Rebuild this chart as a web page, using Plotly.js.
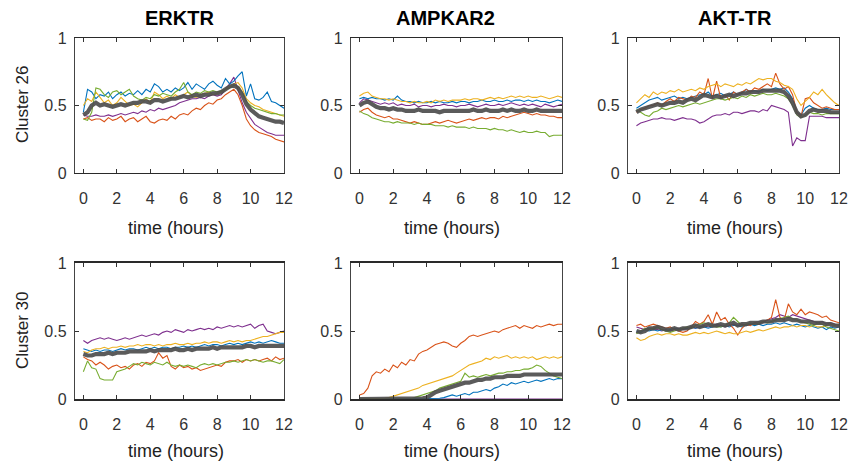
<!DOCTYPE html>
<html>
<head>
<meta charset="utf-8">
<script src="https://cdn.plot.ly/plotly-3.0.1.min.js"></script>
<style>html,body{margin:0;padding:0;background:#fff;}#chart{width:850px;height:465px;}</style>
</head>
<body>
<div id="chart"></div>
<script>
// ---------- DATA ----------
const hours = [0,0.25,0.5,0.75,1,1.25,1.5,1.75,2,2.25,2.5,2.75,3,3.25,3.5,3.75,4,4.25,4.5,4.75,5,5.25,5.5,5.75,6,6.25,6.5,6.75,7,7.25,7.5,7.75,8,8.25,8.5,8.75,9,9.25,9.5,9.75,10,10.25,10.5,10.75,11,11.25,11.5,11.75,12];
const xTicks = [0,2,4,6,8,10,12];
const yTicks = [0,0.5,1];
const yTickText = ["0","0.5","1"];
const reporters = ["ERKTR","AMPKAR2","AKT-TR"];
const clusters = ["Cluster 26","Cluster 30"];
const xLabel = "time (hours)";

// Cluster 26 - ERKTR
const erk26_blue   = [0.45,0.62,0.60,0.55,0.58,0.57,0.60,0.55,0.58,0.60,0.57,0.59,0.58,0.61,0.58,0.62,0.60,0.66,0.64,0.60,0.62,0.60,0.63,0.61,0.63,0.67,0.62,0.66,0.64,0.62,0.66,0.68,0.65,0.63,0.70,0.66,0.68,0.72,0.75,0.57,0.66,0.55,0.54,0.56,0.60,0.53,0.52,0.50,0.48];
const erk26_red    = [0.40,0.41,0.39,0.40,0.40,0.38,0.41,0.39,0.40,0.42,0.38,0.40,0.41,0.38,0.40,0.42,0.38,0.37,0.39,0.40,0.39,0.42,0.40,0.43,0.44,0.43,0.46,0.48,0.47,0.50,0.52,0.51,0.54,0.55,0.58,0.60,0.62,0.58,0.50,0.40,0.35,0.32,0.30,0.29,0.28,0.27,0.25,0.24,0.23];
const erk26_yellow = [0.50,0.55,0.53,0.60,0.56,0.52,0.54,0.50,0.52,0.56,0.53,0.50,0.51,0.49,0.52,0.55,0.52,0.60,0.58,0.55,0.57,0.55,0.58,0.56,0.58,0.60,0.57,0.56,0.58,0.59,0.60,0.58,0.59,0.60,0.62,0.64,0.66,0.67,0.63,0.55,0.52,0.50,0.49,0.47,0.46,0.45,0.44,0.43,0.42];
const erk26_purple = [0.43,0.42,0.42,0.43,0.42,0.42,0.43,0.42,0.43,0.44,0.43,0.44,0.45,0.44,0.46,0.45,0.47,0.46,0.48,0.47,0.48,0.49,0.50,0.52,0.53,0.54,0.55,0.55,0.56,0.55,0.57,0.58,0.57,0.58,0.62,0.66,0.71,0.62,0.52,0.45,0.40,0.36,0.34,0.32,0.30,0.29,0.28,0.28,0.28];
const erk26_green  = [0.40,0.39,0.45,0.63,0.62,0.58,0.56,0.60,0.61,0.58,0.60,0.62,0.57,0.55,0.54,0.56,0.55,0.58,0.57,0.59,0.58,0.57,0.60,0.62,0.67,0.60,0.58,0.60,0.59,0.61,0.60,0.61,0.60,0.61,0.62,0.63,0.65,0.64,0.60,0.53,0.50,0.48,0.47,0.46,0.45,0.44,0.44,0.43,0.43];
const erk26_mean   = [0.43,0.45,0.50,0.52,0.50,0.51,0.50,0.49,0.50,0.51,0.50,0.51,0.52,0.52,0.53,0.53,0.52,0.54,0.54,0.53,0.54,0.55,0.55,0.56,0.57,0.56,0.57,0.58,0.57,0.58,0.58,0.59,0.59,0.60,0.62,0.64,0.65,0.63,0.58,0.51,0.47,0.44,0.42,0.41,0.40,0.39,0.38,0.38,0.37];

// Cluster 26 - AMPKAR2
const amp26_blue   = [0.55,0.56,0.55,0.56,0.55,0.55,0.54,0.55,0.54,0.57,0.54,0.53,0.53,0.52,0.53,0.52,0.52,0.53,0.52,0.53,0.52,0.52,0.53,0.52,0.53,0.53,0.52,0.53,0.53,0.54,0.53,0.53,0.54,0.53,0.53,0.54,0.53,0.54,0.54,0.53,0.54,0.53,0.54,0.53,0.53,0.52,0.53,0.54,0.53];
const amp26_red    = [0.45,0.47,0.48,0.45,0.43,0.42,0.41,0.42,0.40,0.40,0.39,0.38,0.37,0.38,0.37,0.36,0.36,0.37,0.38,0.37,0.38,0.39,0.38,0.37,0.38,0.39,0.40,0.39,0.40,0.41,0.40,0.41,0.41,0.40,0.42,0.41,0.42,0.43,0.44,0.45,0.44,0.43,0.44,0.43,0.43,0.42,0.42,0.41,0.41];
const amp26_yellow = [0.57,0.59,0.60,0.57,0.56,0.55,0.55,0.54,0.55,0.54,0.53,0.53,0.52,0.53,0.52,0.52,0.53,0.52,0.54,0.53,0.54,0.53,0.54,0.54,0.54,0.55,0.54,0.55,0.55,0.54,0.55,0.56,0.55,0.56,0.55,0.56,0.57,0.56,0.57,0.56,0.57,0.56,0.56,0.57,0.56,0.55,0.56,0.57,0.56];
const amp26_purple = [0.52,0.55,0.54,0.53,0.52,0.51,0.52,0.51,0.52,0.50,0.51,0.50,0.50,0.51,0.49,0.50,0.50,0.49,0.50,0.50,0.51,0.50,0.50,0.49,0.50,0.50,0.51,0.50,0.49,0.50,0.51,0.50,0.50,0.51,0.50,0.51,0.52,0.51,0.50,0.51,0.50,0.51,0.50,0.49,0.51,0.50,0.49,0.50,0.51];
const amp26_green  = [0.46,0.44,0.43,0.41,0.40,0.39,0.38,0.38,0.37,0.38,0.37,0.37,0.37,0.36,0.37,0.36,0.36,0.36,0.35,0.35,0.35,0.34,0.35,0.34,0.34,0.34,0.33,0.34,0.33,0.33,0.33,0.32,0.33,0.32,0.32,0.31,0.32,0.31,0.30,0.31,0.30,0.30,0.31,0.30,0.30,0.27,0.28,0.28,0.28];
const amp26_mean   = [0.50,0.52,0.53,0.51,0.49,0.48,0.48,0.47,0.48,0.47,0.47,0.46,0.46,0.46,0.47,0.46,0.46,0.46,0.46,0.45,0.46,0.46,0.46,0.46,0.46,0.46,0.46,0.47,0.46,0.46,0.47,0.46,0.46,0.46,0.47,0.46,0.47,0.46,0.46,0.47,0.46,0.46,0.47,0.46,0.46,0.46,0.46,0.46,0.46];

// Cluster 26 - AKT-TR
const akt26_blue   = [0.48,0.50,0.52,0.54,0.55,0.56,0.54,0.55,0.56,0.57,0.55,0.56,0.55,0.56,0.57,0.58,0.58,0.60,0.57,0.58,0.59,0.57,0.58,0.60,0.58,0.59,0.62,0.60,0.61,0.60,0.62,0.61,0.62,0.63,0.62,0.63,0.60,0.55,0.45,0.43,0.48,0.50,0.48,0.47,0.47,0.48,0.47,0.47,0.47];
const akt26_red    = [0.45,0.47,0.48,0.50,0.50,0.52,0.50,0.53,0.55,0.53,0.56,0.55,0.54,0.57,0.56,0.60,0.58,0.70,0.55,0.68,0.55,0.58,0.54,0.60,0.58,0.60,0.62,0.60,0.63,0.62,0.64,0.66,0.64,0.74,0.66,0.62,0.64,0.58,0.45,0.42,0.55,0.56,0.52,0.50,0.48,0.49,0.48,0.47,0.47];
const akt26_yellow = [0.52,0.55,0.58,0.56,0.60,0.58,0.60,0.59,0.61,0.60,0.62,0.60,0.61,0.62,0.61,0.63,0.62,0.64,0.65,0.66,0.64,0.66,0.65,0.64,0.66,0.65,0.67,0.66,0.68,0.70,0.69,0.70,0.70,0.68,0.67,0.65,0.64,0.62,0.55,0.50,0.53,0.56,0.60,0.58,0.62,0.58,0.55,0.52,0.50];
const akt26_purple = [0.35,0.37,0.38,0.39,0.40,0.40,0.41,0.40,0.40,0.39,0.40,0.41,0.40,0.40,0.39,0.37,0.38,0.40,0.42,0.43,0.43,0.44,0.43,0.45,0.45,0.44,0.45,0.46,0.46,0.45,0.47,0.46,0.50,0.49,0.48,0.47,0.45,0.20,0.26,0.24,0.24,0.42,0.42,0.42,0.42,0.41,0.41,0.41,0.41];
const akt26_green  = [0.47,0.45,0.43,0.42,0.45,0.46,0.48,0.47,0.48,0.49,0.50,0.49,0.50,0.51,0.52,0.51,0.52,0.53,0.54,0.55,0.55,0.54,0.55,0.56,0.55,0.57,0.56,0.58,0.57,0.58,0.59,0.58,0.58,0.59,0.58,0.57,0.55,0.50,0.43,0.41,0.43,0.45,0.44,0.44,0.43,0.44,0.44,0.44,0.44];
const akt26_mean   = [0.45,0.47,0.48,0.49,0.50,0.51,0.50,0.51,0.52,0.52,0.53,0.52,0.54,0.55,0.54,0.56,0.58,0.57,0.56,0.57,0.56,0.57,0.58,0.57,0.58,0.59,0.59,0.60,0.60,0.60,0.61,0.61,0.61,0.61,0.61,0.60,0.57,0.52,0.45,0.42,0.43,0.46,0.47,0.46,0.46,0.46,0.45,0.45,0.45];

// Cluster 30 - ERKTR
const erk30_blue   = [0.37,0.36,0.35,0.36,0.35,0.36,0.36,0.35,0.36,0.37,0.36,0.37,0.37,0.36,0.37,0.38,0.37,0.38,0.37,0.38,0.38,0.37,0.38,0.38,0.39,0.38,0.39,0.38,0.39,0.40,0.39,0.40,0.40,0.39,0.40,0.41,0.40,0.41,0.40,0.41,0.42,0.41,0.42,0.41,0.42,0.43,0.42,0.41,0.41];
const erk30_red    = [0.31,0.29,0.28,0.25,0.27,0.25,0.22,0.24,0.25,0.23,0.24,0.22,0.25,0.26,0.24,0.27,0.26,0.28,0.34,0.30,0.32,0.24,0.22,0.25,0.23,0.24,0.22,0.23,0.21,0.22,0.23,0.24,0.25,0.24,0.27,0.28,0.28,0.29,0.27,0.29,0.28,0.29,0.28,0.29,0.30,0.28,0.31,0.29,0.30];
const erk30_yellow = [0.35,0.34,0.36,0.37,0.37,0.38,0.37,0.38,0.38,0.39,0.38,0.39,0.39,0.40,0.39,0.40,0.40,0.39,0.40,0.39,0.40,0.40,0.41,0.40,0.40,0.41,0.40,0.41,0.41,0.42,0.41,0.42,0.42,0.41,0.42,0.43,0.42,0.43,0.42,0.43,0.43,0.44,0.45,0.46,0.46,0.47,0.48,0.49,0.49];
const erk30_purple = [0.43,0.41,0.43,0.44,0.45,0.44,0.45,0.44,0.43,0.44,0.45,0.44,0.45,0.46,0.47,0.46,0.47,0.48,0.47,0.49,0.50,0.49,0.51,0.50,0.49,0.51,0.50,0.51,0.52,0.51,0.52,0.51,0.53,0.52,0.53,0.54,0.53,0.54,0.53,0.54,0.55,0.52,0.54,0.55,0.50,0.49,0.48,0.49,0.50];
const erk30_green  = [0.20,0.28,0.23,0.22,0.15,0.14,0.14,0.14,0.20,0.21,0.22,0.24,0.26,0.25,0.27,0.26,0.25,0.27,0.26,0.25,0.27,0.25,0.24,0.25,0.24,0.25,0.24,0.23,0.25,0.26,0.25,0.26,0.25,0.26,0.27,0.27,0.28,0.27,0.28,0.29,0.28,0.29,0.28,0.27,0.28,0.28,0.27,0.26,0.29];
const erk30_mean   = [0.33,0.32,0.32,0.33,0.33,0.33,0.34,0.33,0.34,0.34,0.34,0.35,0.35,0.35,0.35,0.35,0.36,0.35,0.36,0.36,0.36,0.36,0.37,0.36,0.36,0.37,0.36,0.37,0.37,0.37,0.37,0.38,0.37,0.38,0.38,0.38,0.38,0.38,0.38,0.39,0.39,0.38,0.39,0.39,0.39,0.39,0.39,0.39,0.39];

// Cluster 30 - AMPKAR2
const amp30_blue   = [0,0,0,0,0,0,0,0,0,0,0,0,0,0,0,0,0,0,0,0.005,0.01,0.02,0.03,0.02,0.03,0.04,0.03,0.05,0.05,0.06,0.07,0.06,0.08,0.09,0.11,0.10,0.12,0.11,0.12,0.13,0.12,0.13,0.14,0.13,0.14,0.15,0.14,0.15,0.15];
const amp30_red    = [0.03,0.04,0.08,0.17,0.20,0.19,0.22,0.20,0.25,0.23,0.27,0.25,0.29,0.28,0.33,0.35,0.36,0.38,0.40,0.41,0.42,0.41,0.39,0.38,0.41,0.43,0.46,0.47,0.46,0.47,0.48,0.49,0.50,0.49,0.51,0.52,0.53,0.54,0.52,0.54,0.53,0.52,0.54,0.53,0.54,0.55,0.54,0.55,0.55];
const amp30_yellow = [0,0,0,0,0,0,0.005,0.01,0.02,0.03,0.04,0.05,0.06,0.07,0.08,0.10,0.11,0.12,0.13,0.14,0.15,0.16,0.17,0.19,0.21,0.23,0.25,0.26,0.27,0.28,0.30,0.29,0.31,0.30,0.31,0.32,0.30,0.31,0.30,0.31,0.30,0.31,0.29,0.30,0.31,0.30,0.31,0.30,0.31];
const amp30_purple = [0,0,0,0,0,0,0,0,0,0,0,0,0,0,0,0,0,0,0,0,0,0,0,0,0,0,0,0,0,0,0,0,0,0,0,0,0,0,0,0,0,0,0,0,0,0,0,0,0];
const amp30_green  = [0,0,0,0,0,0,0,0,0,0,0,0,0,0.01,0.02,0.03,0.04,0.05,0.06,0.08,0.09,0.10,0.11,0.12,0.13,0.19,0.16,0.17,0.16,0.17,0.18,0.17,0.18,0.19,0.19,0.20,0.20,0.21,0.21,0.22,0.22,0.23,0.25,0.24,0.21,0.19,0.17,0.16,0.15];
const amp30_mean   = [0,0,0,0,0,0,0,0,0,0,0,0,0,0,0,0.005,0.01,0.03,0.05,0.06,0.07,0.08,0.09,0.10,0.11,0.12,0.12,0.13,0.14,0.14,0.15,0.15,0.16,0.16,0.16,0.17,0.17,0.17,0.17,0.18,0.18,0.18,0.18,0.18,0.18,0.18,0.18,0.18,0.18];

// Cluster 30 - AKT-TR
const akt30_blue   = [0.50,0.49,0.51,0.50,0.51,0.50,0.51,0.50,0.51,0.52,0.51,0.52,0.52,0.53,0.52,0.53,0.53,0.52,0.53,0.54,0.53,0.54,0.53,0.54,0.54,0.53,0.54,0.55,0.54,0.55,0.54,0.55,0.55,0.56,0.55,0.56,0.55,0.54,0.55,0.54,0.53,0.54,0.53,0.52,0.53,0.51,0.53,0.52,0.53];
const akt30_red    = [0.54,0.55,0.53,0.54,0.55,0.54,0.53,0.52,0.53,0.51,0.50,0.49,0.50,0.53,0.57,0.55,0.57,0.62,0.55,0.64,0.58,0.60,0.55,0.52,0.47,0.52,0.55,0.54,0.56,0.55,0.57,0.58,0.60,0.73,0.60,0.58,0.70,0.64,0.62,0.66,0.62,0.64,0.63,0.62,0.60,0.61,0.58,0.57,0.56];
const akt30_yellow = [0.45,0.43,0.44,0.46,0.47,0.48,0.47,0.48,0.48,0.47,0.48,0.47,0.47,0.48,0.49,0.48,0.49,0.48,0.49,0.50,0.49,0.48,0.49,0.48,0.48,0.49,0.50,0.49,0.50,0.51,0.50,0.51,0.52,0.53,0.52,0.53,0.53,0.54,0.53,0.54,0.54,0.53,0.54,0.53,0.53,0.54,0.55,0.54,0.55];
const akt30_purple = [0.53,0.52,0.51,0.52,0.52,0.51,0.50,0.51,0.50,0.51,0.52,0.51,0.52,0.53,0.52,0.53,0.54,0.53,0.54,0.55,0.54,0.53,0.54,0.55,0.54,0.55,0.54,0.55,0.56,0.57,0.56,0.58,0.59,0.60,0.62,0.61,0.60,0.62,0.61,0.60,0.59,0.58,0.57,0.56,0.57,0.55,0.56,0.55,0.54];
const akt30_green  = [0.48,0.50,0.52,0.51,0.52,0.53,0.51,0.50,0.49,0.50,0.51,0.52,0.53,0.52,0.54,0.55,0.56,0.55,0.54,0.53,0.53,0.54,0.56,0.60,0.57,0.54,0.55,0.56,0.55,0.56,0.57,0.56,0.57,0.58,0.59,0.60,0.61,0.59,0.58,0.57,0.56,0.55,0.54,0.56,0.55,0.53,0.52,0.51,0.50];
const akt30_mean   = [0.50,0.49,0.50,0.52,0.52,0.53,0.52,0.51,0.51,0.52,0.51,0.52,0.52,0.53,0.54,0.53,0.54,0.55,0.54,0.54,0.55,0.54,0.55,0.56,0.54,0.55,0.55,0.56,0.56,0.56,0.57,0.57,0.57,0.58,0.58,0.58,0.59,0.58,0.58,0.57,0.57,0.57,0.56,0.56,0.56,0.55,0.55,0.54,0.54];

// ---------- STYLE ----------
const C = {blue:'#0072BD', red:'#D95319', yellow:'#EDB120', purple:'#7E2F8E', green:'#77AC30', mean:'#4d4d4d'};
const W = 850, H = 465;
const FONT = 'Liberation Sans, Arial, Helvetica, sans-serif';

const panels = [
  {row:0,col:0,s:[erk26_purple,erk26_blue,erk26_red,erk26_yellow,erk26_green,erk26_mean]},
  {row:0,col:1,s:[amp26_purple,amp26_blue,amp26_red,amp26_yellow,amp26_green,amp26_mean]},
  {row:0,col:2,s:[akt26_purple,akt26_blue,akt26_red,akt26_yellow,akt26_green,akt26_mean]},
  {row:1,col:0,s:[erk30_purple,erk30_blue,erk30_red,erk30_yellow,erk30_green,erk30_mean]},
  {row:1,col:1,s:[amp30_purple,amp30_blue,amp30_red,amp30_yellow,amp30_green,amp30_mean]},
  {row:1,col:2,s:[akt30_purple,akt30_blue,akt30_red,akt30_yellow,akt30_green,akt30_mean]}
];
const colPx = [[75,284],[351,562],[628,839]];
const rowPx = [[38,173],[263,399]];
const seriesColors = [C.purple,C.blue,C.red,C.yellow,C.green,C.mean];

const data = [];
const layout = {
  width:W, height:H, margin:{l:0,r:0,t:0,b:0},
  paper_bgcolor:'#fff', plot_bgcolor:'#fff', showlegend:false,
  font:{family:FONT, size:16, color:'#333'},
  annotations:[]
};

panels.forEach((p,i)=>{
  const n = i+1;
  const xa = 'x'+(n===1?'':n), ya = 'y'+(n===1?'':n);
  p.s.forEach((arr,k)=>{
    const isMean = k===5;
    data.push({type:'scatter', mode:'lines', x:hours, y:arr, xaxis:xa, yaxis:ya,
      line:{color:seriesColors[k], width:isMean?4.2:1.1}, opacity:isMean?0.92:1, hoverinfo:'skip'});
  });
  const cx = colPx[p.col], ry = rowPx[p.row];
  layout['xaxis'+(n===1?'':n)] = {
    domain:[cx[0]/W, cx[1]/W], range:[-0.5,12], anchor:ya,
    tickvals:xTicks, ticktext:xTicks.map(String), ticks:'inside', ticklen:4, tickcolor:'#333',
    showline:true, mirror:'allticks', linecolor:'#2a2a2a', linewidth:p.row===1?2:1.3,
    showgrid:false, zeroline:false, ticklabelstandoff:10,
    tickfont:{family:FONT,size:16,color:'#333'}
  };
  layout['yaxis'+(n===1?'':n)] = {
    domain:[1-ry[1]/H, 1-ry[0]/H], range:[0,1], anchor:xa,
    tickvals:yTicks, ticktext:yTickText, ticks:'inside', ticklen:4, tickcolor:'#333',
    showline:true, mirror:'allticks', linecolor:'#444', linewidth:1.2,
    showgrid:false, zeroline:false, ticklabelstandoff:4,
    tickfont:{family:FONT,size:16,color:'#333'}
  };
});

// column titles
const titleX = [179,446,735];
reporters.forEach((t,i)=>{
  layout.annotations.push({text:'<b>'+t+'</b>', xref:'paper', yref:'paper', x:titleX[i]/W, y:1-18/H,
    xanchor:'center', yanchor:'middle', showarrow:false, font:{family:FONT,size:20,color:'#000'}});
});
// x-axis titles
const xlabX = [176,452,735];
const xlabY = [228,451];
xlabY.forEach(py=>{
  xlabX.forEach(px=>{
    layout.annotations.push({text:xLabel, xref:'paper', yref:'paper', x:px/W, y:1-py/H,
      xanchor:'center', yanchor:'middle', showarrow:false, font:{family:FONT,size:18,color:'#222'}});
  });
});
// row labels
const rowLabY = [105,331];
clusters.forEach((t,i)=>{
  layout.annotations.push({text:t, xref:'paper', yref:'paper', x:22/W, y:1-rowLabY[i]/H,
    xanchor:'center', yanchor:'middle', textangle:-90, showarrow:false, font:{family:FONT,size:17,color:'#222'}});
});

Plotly.newPlot('chart', data, layout, {staticPlot:true, displayModeBar:false});
</script>
</body>
</html>
